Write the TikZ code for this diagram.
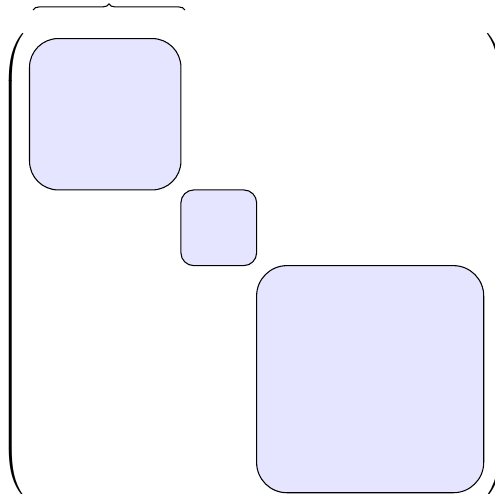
\documentclass[tikz,border=0pt]{standalone}
\usetikzlibrary{decorations.pathreplacing}
\begin{document}
\begin{tikzpicture}[x=1cm,y=1cm,line width=0.4pt,line join=round,
  blk/.style={draw=black,fill=blue!10,inner sep=0pt,anchor=north west}]
\path[use as bounding box] (-0.383,0.502) rectangle (6.156,-6.011);
% Block corners; diagonal embedding.
\coordinate (d-a) at (0.0000,0.0000);
\coordinate (d-b) at (2.0000,-2.0000);
\coordinate (d-c) at (3.0000,-3.0000);
% Node b1: leading block.
\node[blk,minimum size=2cm,rounded corners=0.38cm] (b1) at (d-a) {};
% Node b2: middle block.
\node[blk,minimum size=1cm,rounded corners=0.17cm] (b2) at (d-b) {};
% Node b3: trailing block.
\node[blk,minimum size=3cm,rounded corners=0.40cm] (b3) at (d-c) {};
% Delimiters around the matrix.
\node[inner sep=0pt,anchor=east] (lpar) at (-0.0100,-3.0000)
  {$\left(\vrule height 85pt depth 85pt width 0pt\right.$};
\node[inner sep=0pt,anchor=west] (rpar) at (6.0000,-3.0000)
  {$\left.\vrule height 85pt depth 85pt width 0pt\right)$};
% Brace over the first block.
\coordinate (br-l) at (0.0530,0.3700);
\coordinate (br-r) at (2.0600,0.3700);
\draw[decorate,decoration={brace,amplitude=2.3pt}] (br-l) -- (br-r);
\end{tikzpicture}
\end{document}
